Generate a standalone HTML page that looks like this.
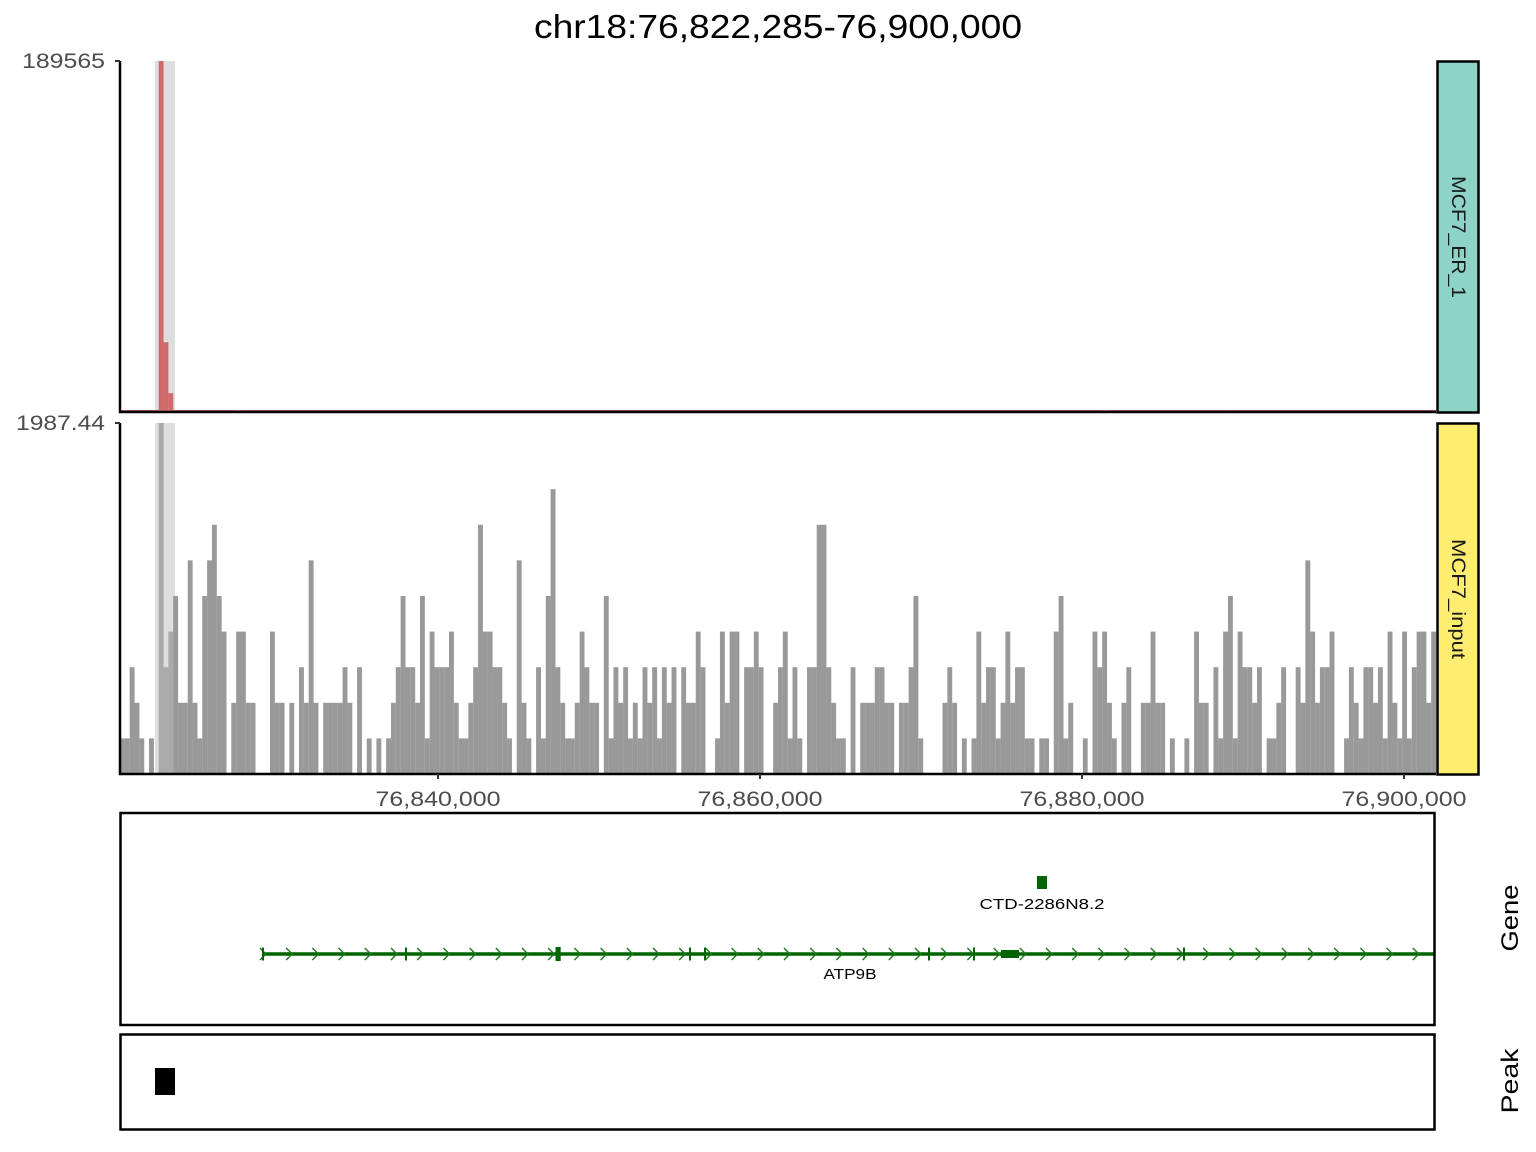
<!DOCTYPE html>
<html><head><meta charset="utf-8">
<style>
html,body{margin:0;padding:0;background:#fff;}
svg{display:block;font-family:"Liberation Sans","DejaVu Sans",sans-serif;}
</style></head>
<body>
<svg id="chart" width="1536" height="1152" viewBox="0 0 1536 1152">
  <text x="778" y="38" text-anchor="middle" font-size="33" textLength="488" lengthAdjust="spacingAndGlyphs" fill="#000">chr18:76,822,285-76,900,000</text>
  <g id="er"></g>
  <g id="inp"></g>
  <g id="xaxis"></g>
  <rect x="1437.5" y="61.5" width="41" height="351" fill="#8dd3c7" stroke="#000" stroke-width="2.5"/>
  <text transform="translate(1452,237) rotate(90)" text-anchor="middle" font-size="19" textLength="122" lengthAdjust="spacingAndGlyphs" fill="#1a1a1a">MCF7_ER_1</text>
  <rect x="1437.5" y="423.5" width="41" height="351" fill="#ffed6f" stroke="#000" stroke-width="2.5"/>
  <text transform="translate(1452,599) rotate(90)" text-anchor="middle" font-size="19" textLength="120" lengthAdjust="spacingAndGlyphs" fill="#1a1a1a">MCF7_input</text>
  <g id="gene"></g>
  <rect x="120.5" y="813" width="1314" height="212" fill="none" stroke="#000" stroke-width="2.5"/>
  <text transform="translate(1518,918) rotate(-90)" text-anchor="middle" font-size="24" textLength="67" lengthAdjust="spacingAndGlyphs" fill="#000">Gene</text>
  <rect x="120.5" y="1034.5" width="1314" height="95" fill="none" stroke="#000" stroke-width="2.5"/>
  <text transform="translate(1518,1081) rotate(-90)" text-anchor="middle" font-size="24" textLength="65" lengthAdjust="spacingAndGlyphs" fill="#000">Peak</text>
  <g id="peak"></g>
</svg>
<script>
// ---- data ----
const inputCounts = [1,1,3,2,1,0,1,0,12,3,4,5,2,2,6,2,1,5,6,7,5,4,0,2,4,4,2,2,0,0,0,4,2,2,0,2,0,3,2,6,2,0,2,2,2,2,3,2,0,3,0,1,0,1,0,1,2,3,5,3,3,2,5,1,4,3,3,3,4,
2,1,1,2,3,7,4,4,3,3,2,1,0,6,2,1,0,3,1,5,8,3,2,1,1,2,4,3,2,2,0,5,1,3,2,3,1,2,1,3,2,3,1,3,2,3,0,3,2,2,4,3,0,0,1,4,2,4,4,0,3,3,4,3,0,0,2,3,
4,1,3,1,0,3,3,7,7,3,2,1,1,0,3,0,2,2,2,3,3,2,2,0,2,2,3,5,1,0,0,0,0,2,3,2,0,1,0,1,4,2,3,3,1,2,4,2,3,3,1,1,0,1,1,0,4,5,1,2,0,0,1,0,4,3,4,2,
1,0,2,3,0,0,2,2,4,2,2,0,1,0,0,1,0,4,2,2,0,3,1,4,5,1,4,3,3,2,3,0,1,1,2,3,0,0,3,2,6,4,2,3,3,4,0,0,1,3,2,1,3,3,2,3,1,4,2,1,4,1,3,4,4,2,4];
const inputUnit = 201.6;      // signal per read
const inputMax = 1987.44;
const erBinIdx = [8, 9, 10, 24, 122, 203, 229];
const erValues = [189565, 37700, 10200, 700, 500, 700, 600];
const erMax = 189565;
const xTicks = [76840000, 76860000, 76880000, 76900000];
const xTickLabels = ["76,840,000", "76,860,000", "76,880,000", "76,900,000"];
const geneExons = [76829068, 76837950, 76847300, 76855590, 76856522, 76870435, 76873230, 76874969, 76886273];
const geneExonWidth = [120, 120, 320, 100, 100, 100, 100, 1118, 100];
const geneStart = 76829068, geneEnd = 76900000;
const lncStart = 76877205, lncEnd = 76877826;
const peakStart = 76822422, peakEnd = 76823665;
const hlStart = 76822422, hlEnd = 76823665;

// ---- scales ----
const X0 = 120, X1 = 1436;
const xs = p => 438 + (p - 76840000) * (1404 - 438) / 60000;
const nBins = inputCounts.length;
const bw = (X1 - X0) / nBins;
const NS = "http://www.w3.org/2000/svg";
function mk(tag, attrs, parent){ const e=document.createElementNS(NS,tag); for(const k in attrs) e.setAttribute(k,attrs[k]); parent.appendChild(e); return e; }

const er = document.getElementById('er'), inp = document.getElementById('inp');
const erTop=61, erBase=412, inTop=423, inBase=774;
[[er,erTop,erBase],[inp,inTop,inBase]].forEach(([g,t,b])=>{
  const r=mk('rect',{x:xs(hlStart),y:t,width:xs(hlEnd)-xs(hlStart),height:b-t,fill:'#dedede'},g);
  
  
});
const ys_in = v => inBase - Math.min(v*inputUnit, inputMax)/inputMax*(inBase-inTop);
inputCounts.forEach((c,i)=>{
  if(!c) return;
  const x = X0 + i*bw, y = ys_in(c);
  const inHl = x+bw/2 > xs(hlStart) && x+bw/2 < xs(hlEnd);
  const r = mk('rect',{x:x.toFixed(2),y:y.toFixed(2),width:(bw+0.05).toFixed(2),height:(inBase-y).toFixed(2),fill: inHl?'#aaaaaa':'#999999'},inp);
  
  
});
mk('line',{x1:X0,y1:erBase-1,x2:X1,y2:erBase-1,stroke:'#8b1a1a','stroke-width':1.5},er);
const ys_er = v => erBase - v/erMax*(erBase-erTop);
erBinIdx.forEach((bi,i)=>{
  const x = X0 + bi*bw, y = ys_er(erValues[i]);
  const r = mk('rect',{x:x.toFixed(2),y:y.toFixed(2),width:bw.toFixed(2),height:(erBase-y).toFixed(2),fill:'#d16b6b'},er);
  
  
});
[[er,erTop,erBase,'189565',83],[inp,inTop,inBase,'1987.44',89]].forEach(([g,t,b,lab,tl])=>{
  const a=mk('path',{d:`M${X0},${t} V${b} H${X1}`,fill:'none',stroke:'#000','stroke-width':2.5},g);
  
  
  mk('line',{x1:X0-5,y1:t,x2:X0,y2:t,stroke:'#333','stroke-width':2},g);
  const tx=mk('text',{x:X0-15,y:t+7,'text-anchor':'end','font-size':21,textLength:tl,lengthAdjust:'spacingAndGlyphs',fill:'#4d4d4d'},g);
  tx.textContent=lab;
  
  
});
const xa=document.getElementById('xaxis');
xTicks.forEach((p,i)=>{
  const x=xs(p);
  mk('line',{x1:x,y1:inBase,x2:x,y2:inBase+5,stroke:'#333','stroke-width':2},xa);
  const t=mk('text',{x:x,y:inBase+32,'text-anchor':'middle','font-size':21,textLength:125,lengthAdjust:'spacingAndGlyphs',fill:'#4d4d4d'},xa);
  t.textContent=xTickLabels[i];
  
  
});
const gg=document.getElementById('gene');
const gy=954;
const gl=mk('line',{x1:xs(geneStart),y1:gy,x2:1434,y2:gy,stroke:'#006400','stroke-width':3.5},gg);


for(let x=xs(geneStart)+2; x<1434; x+=26.2){
  mk('path',{d:`M${x-4},${gy-6} L${x+2},${gy} L${x-4},${gy+6}`,fill:'none',stroke:'#1a7a1a','stroke-width':1.4},gg);
}
geneExons.forEach((p,i)=>{
  const x=xs(p), w=Math.max(2,xs(p+geneExonWidth[i])-x);
  const h = geneExonWidth[i]>=1000?8:(geneExonWidth[i]>=300?14:13);
  const r=mk('rect',{x:x,y:gy-h/2,width:w,height:h,fill:'#006400'},gg);
  
  
});
const t1=mk('text',{x:850,y:979,'text-anchor':'middle','font-size':15,textLength:53,lengthAdjust:'spacingAndGlyphs',fill:'#000'},gg); t1.textContent='ATP9B';


const lr=mk('rect',{x:xs(lncStart),y:876,width:xs(lncEnd)-xs(lncStart),height:13,fill:'#006400'},gg);


const t2=mk('text',{x:1042,y:909,'text-anchor':'middle','font-size':15,textLength:125,lengthAdjust:'spacingAndGlyphs',fill:'#000'},gg); t2.textContent='CTD-2286N8.2';


const pk=mk('rect',{x:xs(peakStart),y:1068,width:xs(peakEnd)-xs(peakStart),height:27,fill:'#000'},document.getElementById('peak'));


</script>
</body></html>
